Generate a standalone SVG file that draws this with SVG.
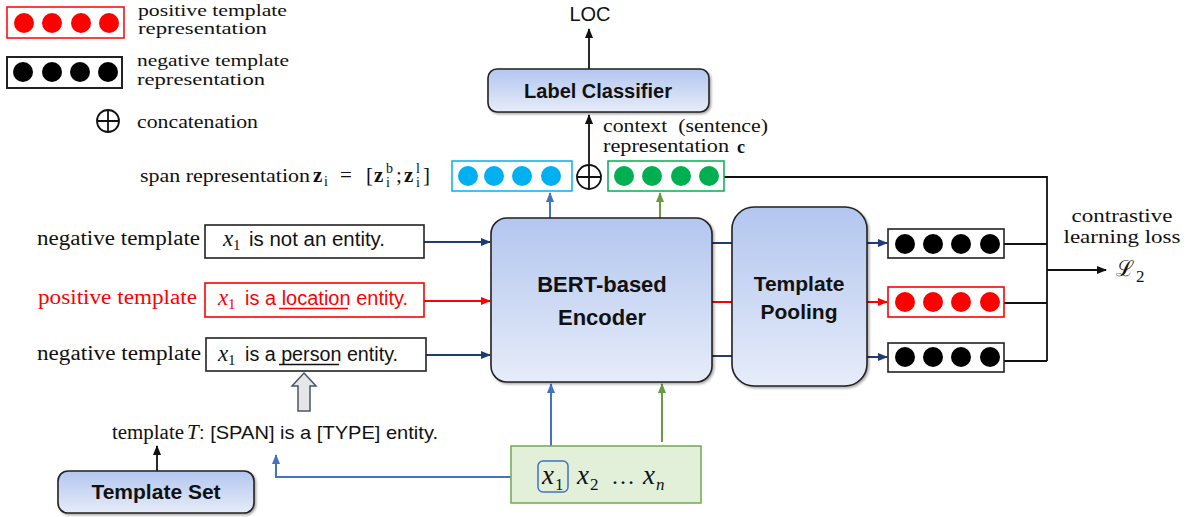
<svg xmlns="http://www.w3.org/2000/svg" width="1193" height="517" viewBox="0 0 1193 517">
<style>
.serif{font-family:"Liberation Serif",serif;fill:#111}
.sans{font-family:"Liberation Sans",Arial,sans-serif;fill:#111}
.title{font-family:"Liberation Sans",Arial,sans-serif;font-weight:bold;fill:#111;text-anchor:middle}
.math{font-family:"Liberation Serif",serif;font-style:italic;fill:#111}
.node{fill:url(#grad);stroke:#222;stroke-width:1.6;filter:url(#shadow)}
.blk{stroke:#111;stroke-width:1.8;fill:none}
.navy{stroke:#1f3b73;stroke-width:2;fill:none}
.red{stroke:#ff0000;stroke-width:2;fill:none}
.blue{stroke:#4472c4;stroke-width:2;fill:none}
.green{stroke:#6a9a42;stroke-width:2;fill:none}
.cb{fill:#00b0f0}.cg{fill:#00b050}.cr{fill:#ff0000}.ck{fill:#000}
</style>
<defs>
<linearGradient id="grad" x1="0" y1="0" x2="0" y2="1">
<stop offset="0" stop-color="#b3c6ef"/>
<stop offset="1" stop-color="#e6ecf9"/>
</linearGradient>
<filter id="shadow" x="-10%" y="-10%" width="130%" height="130%">
<feDropShadow dx="1.5" dy="1.5" stdDeviation="1" flood-color="#000" flood-opacity="0.35"/>
</filter>
<marker id="aK" markerWidth="10" markerHeight="10" refX="9" refY="5" orient="auto" markerUnits="userSpaceOnUse"><path d="M0,1 L10,5 L0,9 z" fill="#111"/></marker>
<marker id="aN" markerWidth="10" markerHeight="10" refX="9" refY="5" orient="auto" markerUnits="userSpaceOnUse"><path d="M0,1 L10,5 L0,9 z" fill="#1f3b73"/></marker>
<marker id="aR" markerWidth="10" markerHeight="10" refX="9" refY="5" orient="auto" markerUnits="userSpaceOnUse"><path d="M0,1 L10,5 L0,9 z" fill="#ff0000"/></marker>
<marker id="aB" markerWidth="10" markerHeight="10" refX="9" refY="5" orient="auto" markerUnits="userSpaceOnUse"><path d="M0,1 L10,5 L0,9 z" fill="#4472c4"/></marker>
<marker id="aG" markerWidth="10" markerHeight="10" refX="9" refY="5" orient="auto" markerUnits="userSpaceOnUse"><path d="M0,1 L10,5 L0,9 z" fill="#6a9a42"/></marker>
</defs>
<rect width="1193" height="517" fill="#fff"/>

<g id="legend">
<rect x="7" y="7" width="117" height="31" fill="#fff" stroke="#ff0000" stroke-width="1.5"/>
<circle class="cr" cx="24" cy="23" r="10"/><circle class="cr" cx="52" cy="23" r="10"/><circle class="cr" cx="81" cy="23" r="10"/><circle class="cr" cx="109" cy="23" r="10"/>
<text class="serif" x="138" y="16" font-size="17.5" textLength="149" lengthAdjust="spacingAndGlyphs">positive template</text>
<text class="serif" x="138" y="34" font-size="17.5" textLength="129" lengthAdjust="spacingAndGlyphs">representation</text>
<rect x="7" y="57" width="115" height="31" fill="#fff" stroke="#222" stroke-width="2"/>
<circle class="ck" cx="23" cy="72" r="10"/><circle class="ck" cx="52" cy="72" r="10"/><circle class="ck" cx="80" cy="72" r="10"/><circle class="ck" cx="108" cy="72" r="10"/>
<text class="serif" x="137" y="66" font-size="17.5" textLength="152" lengthAdjust="spacingAndGlyphs">negative template</text>
<text class="serif" x="137" y="85" font-size="17.5" textLength="128" lengthAdjust="spacingAndGlyphs">representation</text>
<circle cx="108" cy="121" r="11" fill="none" stroke="#111" stroke-width="1.8"/>
<path d="M97,121 H119 M108,110 V132" class="blk"/>
<text class="serif" x="137" y="128" font-size="19" textLength="121" lengthAdjust="spacingAndGlyphs">concatenation</text>
</g>

<g id="connectors">
<path d="M589,69 V29" class="blk" stroke-width="2" marker-end="url(#aK)"/>
<path d="M589,164 V115" class="blk" stroke-width="2.6" marker-end="url(#aK)"/>
<path d="M550,218 V193" class="blue" marker-end="url(#aB)"/>
<path d="M660,218 V193" class="green" marker-end="url(#aG)"/>
<path d="M424,242 H490" class="navy" marker-end="url(#aN)"/>
<path d="M424,301 H490" class="red" marker-end="url(#aR)"/>
<path d="M426,355 H490" class="navy" marker-end="url(#aN)"/>
<path d="M712,243 H732" class="navy"/>
<path d="M712,302 H732" class="red"/>
<path d="M712,356 H732" class="navy"/>
<path d="M867,243 H887" class="navy" marker-end="url(#aN)"/>
<path d="M867,302 H887" class="red" marker-end="url(#aR)"/>
<path d="M867,357 H887" class="navy" marker-end="url(#aN)"/>
<path d="M724,177 H1047 V361" class="blk"/>
<path d="M1004,244 H1047 M1004,303 H1047 M1004,361 H1047" class="blk"/>
<path d="M1047,270 H1106" class="blk" marker-end="url(#aK)"/>
<path d="M157,471 V446" class="blk" stroke-width="2" marker-end="url(#aK)"/>
<path d="M538,477 H276 V455" class="blue" marker-end="url(#aB)"/>
<path d="M551,461 V384" class="blue" marker-end="url(#aB)"/>
<path d="M662,442 V384" class="green" marker-end="url(#aG)"/>
<polygon points="304,373 316,386 310,386 310,411 298,411 298,386 292,386" fill="#e6e6e6" stroke="#4a5568" stroke-width="1.5"/>
</g>

<g id="loc"><text class="sans" x="590" y="21" font-size="20" text-anchor="middle">LOC</text></g>

<g id="label-classifier">
<rect class="node" x="488" y="69" width="221" height="43" rx="9"/>
<text class="title" x="598" y="98" font-size="20">Label Classifier</text>
</g>

<g id="context-text">
<text class="serif" x="603" y="132" font-size="18" textLength="165" lengthAdjust="spacingAndGlyphs" xml:space="preserve">context  (sentence)</text>
<text class="serif" x="603" y="152" font-size="18" textLength="126" lengthAdjust="spacingAndGlyphs">representation</text>
<text class="serif" x="737" y="153" font-size="18" font-weight="bold">c</text>
</g>

<g id="span-repr">
<rect x="452" y="161" width="120" height="30" fill="#fff" stroke="#00b0f0" stroke-width="1.5"/>
<circle class="cb" cx="468" cy="176" r="10"/><circle class="cb" cx="494" cy="176" r="10"/><circle class="cb" cx="522" cy="176" r="10"/><circle class="cb" cx="551" cy="176" r="10"/>
</g>
<g id="concat">
<circle cx="589" cy="177" r="12" fill="#fff" stroke="#111" stroke-width="1.8"/>
<path d="M577,177 H601 M589,165 V189" class="blk"/>
</g>
<g id="context-repr">
<rect x="608" y="161" width="116" height="30" fill="#fff" stroke="#00b050" stroke-width="1.5"/>
<circle class="cg" cx="624" cy="176" r="10"/><circle class="cg" cx="652" cy="176" r="10"/><circle class="cg" cx="681" cy="176" r="10"/><circle class="cg" cx="709" cy="176" r="10"/>
</g>

<g id="span-formula">
<text class="serif" x="140" y="182" font-size="19" textLength="170" lengthAdjust="spacingAndGlyphs">span representation</text>
<text class="serif" x="313" y="182" font-size="21" font-weight="bold">z</text>
<text class="serif" x="324" y="186" font-size="14">i</text>
<text class="serif" x="340" y="182" font-size="21">=</text>
<text class="serif" x="366" y="182" font-size="21">[</text>
<text class="serif" x="374" y="182" font-size="21" font-weight="bold">z</text>
<text class="serif" x="386" y="173" font-size="14">b</text>
<text class="serif" x="386" y="187" font-size="14">i</text>
<text class="serif" x="396" y="182" font-size="21">;</text>
<text class="serif" x="404" y="182" font-size="21" font-weight="bold">z</text>
<text class="serif" x="416" y="173" font-size="14">l</text>
<text class="serif" x="416" y="187" font-size="14">i</text>
<text class="serif" x="423" y="182" font-size="21">]</text>
</g>

<g id="neg-template-1">
<text class="serif" x="200" y="245" font-size="20" text-anchor="end" textLength="163" lengthAdjust="spacingAndGlyphs">negative template</text>
<rect x="205" y="225" width="219" height="33" fill="#fff" stroke="#222" stroke-width="1.6"/>
<text class="math" x="223" y="246" font-size="23">x</text>
<text class="serif" x="233" y="250" font-size="15">1</text>
<text class="sans" x="249" y="246" font-size="20" textLength="136" lengthAdjust="spacingAndGlyphs">is not an entity.</text>
</g>

<g id="pos-template">
<text class="serif" x="197" y="304" font-size="20" text-anchor="end" textLength="159" lengthAdjust="spacingAndGlyphs" style="fill:#ff0000">positive template</text>
<rect x="205" y="283" width="219" height="34" fill="#fff" stroke="#ff0000" stroke-width="1.6"/>
<text class="math" x="218" y="305" font-size="23" style="fill:#ff0000">x</text>
<text class="serif" x="228" y="309" font-size="15" style="fill:#ff0000">1</text>
<text class="sans" x="245" y="305" font-size="20" textLength="163" lengthAdjust="spacingAndGlyphs" style="fill:#ff0000">is a location entity.</text>
<path d="M279,308.5 H348" stroke="#ff0000" stroke-width="1.3"/>
</g>

<g id="neg-template-2">
<text class="serif" x="201" y="360" font-size="20" text-anchor="end" textLength="164" lengthAdjust="spacingAndGlyphs">negative template</text>
<rect x="206" y="338" width="220" height="33" fill="#fff" stroke="#222" stroke-width="1.6"/>
<text class="math" x="218" y="361" font-size="23">x</text>
<text class="serif" x="228" y="365" font-size="15">1</text>
<text class="sans" x="245" y="361" font-size="20" textLength="153" lengthAdjust="spacingAndGlyphs">is a person entity.</text>
<path d="M279,364.5 H339" stroke="#111" stroke-width="1.3"/>
</g>

<g id="bert-encoder">
<rect class="node" x="491" y="218" width="221" height="164" rx="16"/>
<text class="title" x="602" y="292" font-size="22">BERT-based</text>
<text class="title" x="602" y="325" font-size="22">Encoder</text>
</g>

<g id="template-pooling">
<rect class="node" x="732" y="207" width="135" height="179" rx="22"/>
<text class="title" x="799" y="291" font-size="21">Template</text>
<text class="title" x="799" y="319" font-size="21">Pooling</text>
</g>

<g id="out-neg-1">
<rect x="888" y="229" width="116" height="29" fill="#fff" stroke="#222" stroke-width="1.6"/>
<circle class="ck" cx="905" cy="244" r="10"/><circle class="ck" cx="933" cy="244" r="10"/><circle class="ck" cx="961" cy="244" r="10"/><circle class="ck" cx="990" cy="244" r="10"/>
</g>
<g id="out-pos">
<rect x="888" y="287" width="116" height="30" fill="#fff" stroke="#ff0000" stroke-width="1.6"/>
<circle class="cr" cx="905" cy="302" r="10"/><circle class="cr" cx="933" cy="302" r="10"/><circle class="cr" cx="961" cy="302" r="10"/><circle class="cr" cx="990" cy="302" r="10"/>
</g>
<g id="out-neg-2">
<rect x="888" y="343" width="116" height="29" fill="#fff" stroke="#222" stroke-width="1.6"/>
<circle class="ck" cx="905" cy="357" r="10"/><circle class="ck" cx="933" cy="357" r="10"/><circle class="ck" cx="961" cy="357" r="10"/><circle class="ck" cx="990" cy="357" r="10"/>
</g>

<g id="loss">
<text class="serif" x="1122" y="222" font-size="19" text-anchor="middle" textLength="101" lengthAdjust="spacingAndGlyphs">contrastive</text>
<text class="serif" x="1122" y="243" font-size="19" text-anchor="middle" textLength="117" lengthAdjust="spacingAndGlyphs">learning loss</text>
<text x="1116" y="276" font-size="22" style="font-family:'DejaVu Serif',serif;fill:#111">ℒ</text>
<text class="serif" x="1136" y="282" font-size="17">2</text>
</g>

<g id="template-text">
<text class="serif" x="112" y="439" font-size="20" textLength="72" lengthAdjust="spacingAndGlyphs">template</text>
<text class="math" x="187" y="439" font-size="21">T</text>
<text class="sans" x="199" y="439" font-size="19" textLength="239" lengthAdjust="spacingAndGlyphs">: [SPAN] is a [TYPE] entity.</text>
</g>

<g id="template-set">
<rect class="node" x="58" y="471" width="196" height="42" rx="10"/>
<text class="title" x="156" y="499" font-size="21">Template Set</text>
</g>

<g id="input-sequence">
<rect x="511" y="446" width="190" height="57" fill="#e2efd9" stroke="#70ad47" stroke-width="1.5"/>
<rect x="538" y="461" width="30" height="31" rx="5" fill="none" stroke="#4472c4" stroke-width="1.5"/>
<text class="math" x="542" y="484" font-size="27">x</text>
<text class="serif" x="555" y="490" font-size="17">1</text>
<text class="math" x="577" y="484" font-size="27">x</text>
<text class="serif" x="590" y="490" font-size="17">2</text>
<text class="serif" x="611" y="484" font-size="24">…</text>
<text class="math" x="643" y="484" font-size="27">x</text>
<text class="math" x="656" y="490" font-size="17">n</text>
</g>
</svg>
